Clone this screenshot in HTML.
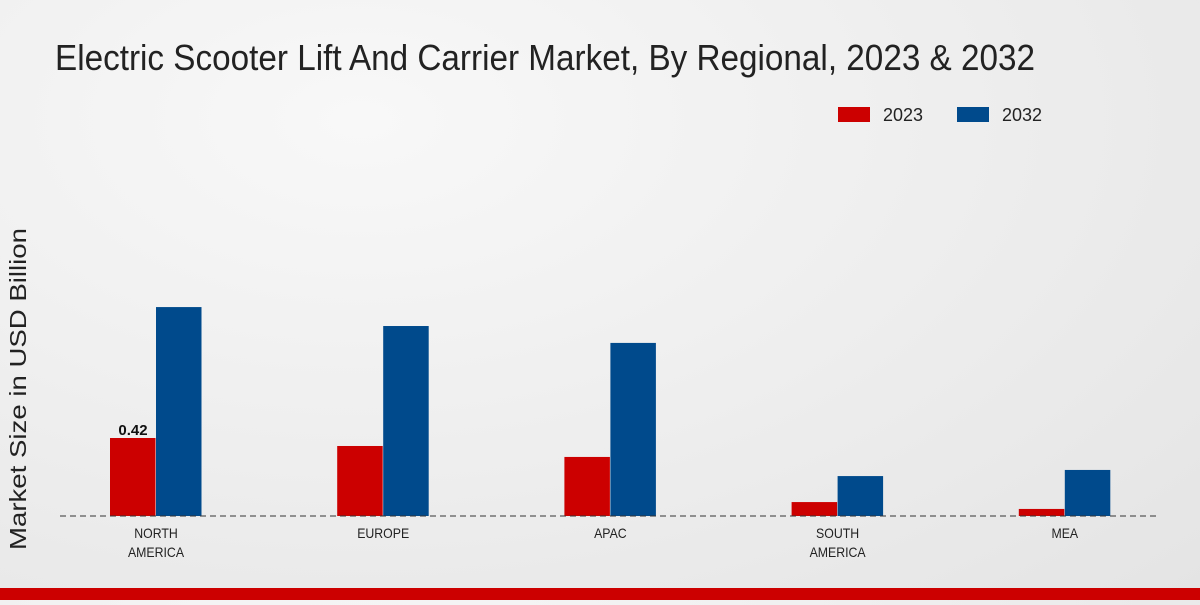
<!DOCTYPE html>
<html><head><meta charset="utf-8"><style>
html,body{margin:0;padding:0;}
body{width:1200px;height:600px;overflow:hidden;background:radial-gradient(ellipse at 30% 20%,#f8f8f8 0%,#ececec 60%,#e4e4e4 100%);font-family:"Liberation Sans",sans-serif;}
</style></head><body>
<svg width="1200" height="600" xmlns="http://www.w3.org/2000/svg" id="chart">
<text x="55" y="70" font-size="36" fill="#222" textLength="980" lengthAdjust="spacingAndGlyphs">Electric Scooter Lift And Carrier Market, By Regional, 2023 &amp; 2032</text>
<g>
<rect x="838" y="107" width="32" height="15" fill="#cc0000"/>
<text x="883" y="121" font-size="18" fill="#222" textLength="40" lengthAdjust="spacingAndGlyphs">2023</text>
<rect x="957" y="107" width="32" height="15" fill="#004a8c"/>
<text x="1002" y="121" font-size="18" fill="#222" textLength="40" lengthAdjust="spacingAndGlyphs">2032</text>
</g>
<text transform="translate(26,389) rotate(-90)" text-anchor="middle" font-size="23" fill="#222" textLength="322" lengthAdjust="spacingAndGlyphs">Market Size in USD Billion</text>
<g id="bars"></g>
<line x1="60" y1="516" x2="1160" y2="516" stroke="#333" stroke-dasharray="6,4" stroke-width="1"/>
<g id="labels"></g>
<rect x="0" y="588" width="1200" height="12" fill="#cc0000"/>
</svg>
<script>
const categories=[["NORTH","AMERICA"],["EUROPE"],["APAC"],["SOUTH","AMERICA"],["MEA"]];
const values2023=[0.42,0.377,0.318,0.075,0.038];
const values2032=[1.125,1.023,0.932,0.215,0.248];
const shownLabels=["0.42"];
const NS="http://www.w3.org/2000/svg";
const base=516, ppu=78/0.42;
function xc(i){return 156+i*227.2;}
function yv(v){return base-v*ppu;}
const bars=document.getElementById('bars'), labels=document.getElementById('labels');
categories.forEach((c,i)=>{
  [[values2023,"#cc0000",-46,"2023"],[values2032,"#004a8c",0,"2032"]].forEach(([arr,col,off,yr])=>{
    const r=document.createElementNS(NS,'rect');
    r.setAttribute('x',xc(i)+off);r.setAttribute('width',45.5);
    r.setAttribute('y',yv(arr[i]));r.setAttribute('height',base-yv(arr[i]));r.setAttribute('fill',col);
    
    
    bars.appendChild(r);
  });
  c.forEach((line,k)=>{
    const t=document.createElementNS(NS,'text');
    t.setAttribute('x',xc(i));t.setAttribute('y',538+k*19);t.setAttribute('text-anchor','middle');
    t.setAttribute('font-size','14');t.setAttribute('fill','#222');
    t.setAttribute('transform','translate('+xc(i)+',0) scale(0.88,1) translate('+(-xc(i))+',0)');
    t.textContent=line;
    
    
    labels.appendChild(t);
  });
});
shownLabels.forEach((s,i)=>{
  const t=document.createElementNS(NS,'text');
  t.setAttribute('x',xc(i)-23);t.setAttribute('y',yv(values2023[i])-3);t.setAttribute('text-anchor','middle');
  t.setAttribute('font-size','15');t.setAttribute('font-weight','bold');t.setAttribute('fill','#111');
  t.textContent=s;
  
  
  labels.appendChild(t);
});
</script>
</body></html>
